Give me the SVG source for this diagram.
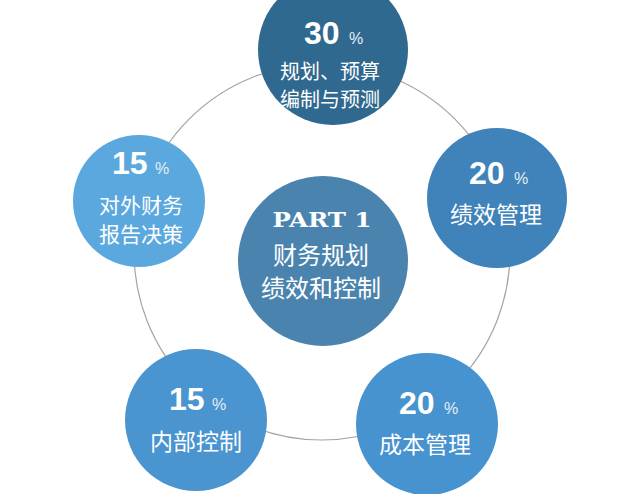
<svg xmlns="http://www.w3.org/2000/svg" width="640" height="494" viewBox="0 0 640 494">
<style>
.num{font-family:"Liberation Sans",Arial,sans-serif;font-weight:bold;font-size:32px;fill:#fff}
.pct{font-family:"Liberation Sans",Arial,sans-serif;font-size:16px;fill:#e6eef5}
.cn{font-family:"Noto Sans CJK SC","Noto Sans",sans-serif;font-size:21px;fill:#fff;text-anchor:middle}
.part{font-family:"DejaVu Serif","Liberation Serif",serif;font-weight:bold;font-size:20px;fill:#fff;text-anchor:middle}
.ring{fill:none;stroke:#a3a3a3;stroke-width:1.2}
</style>
<rect width="640" height="494" fill="#fff"/>
<g id="connectors">
<circle class="ring" cx="322" cy="252" r="188"/>
</g>
<g id="node-top">
<circle cx="333" cy="50" r="75" fill="#30698f"/>
<text class="num" x="304" y="44">30</text>
<text class="pct" x="349" y="44">%</text>
<text class="cn" x="330" y="79" style="font-size:20px">规划、预算</text>
<text class="cn" x="330" y="107" style="font-size:20px">编制与预测</text>
</g>
<g id="node-center">
<circle cx="323" cy="261" r="85" fill="#4a84ae"/>
<text class="part" x="322" y="227" textLength="99" lengthAdjust="spacingAndGlyphs">PART 1</text>
<text class="cn" x="321" y="264" style="font-size:24px">财务规划</text>
<text class="cn" x="321" y="297" style="font-size:24px">绩效和控制</text>
</g>
<g id="node-left">
<circle cx="139" cy="201" r="66" fill="#5ba8de"/>
<text class="num" x="112" y="174">15</text>
<text class="pct" x="155" y="174">%</text>
<text class="cn" x="141" y="213">对外财务</text>
<text class="cn" x="141" y="242">报告决策</text>
</g>
<g id="node-right">
<circle cx="497" cy="198" r="70" fill="#3f83ba"/>
<text class="num" x="469" y="184">20</text>
<text class="pct" x="514" y="184">%</text>
<text class="cn" x="496" y="223" style="font-size:23px">绩效管理</text>
</g>
<g id="node-bottom-left">
<circle cx="196" cy="420" r="71" fill="#4a94cf"/>
<text class="num" x="169" y="410">15</text>
<text class="pct" x="212" y="410">%</text>
<text class="cn" x="196" y="450" style="font-size:23px">内部控制</text>
</g>
<g id="node-bottom-right">
<circle cx="427" cy="424" r="71" fill="#4693d0"/>
<text class="num" x="399" y="414">20</text>
<text class="pct" x="444" y="414">%</text>
<text class="cn" x="425" y="453" style="font-size:23px">成本管理</text>
</g>
</svg>
